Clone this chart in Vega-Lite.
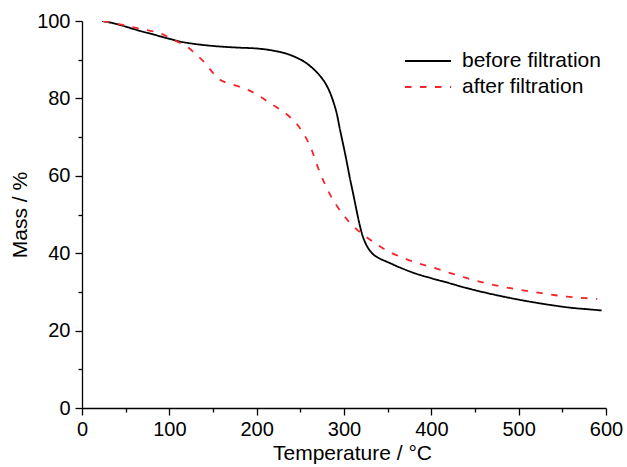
{
  "$schema": "https://vega.github.io/schema/vega-lite/v6.json",
  "width": 524,
  "height": 387,
  "autosize": {"type": "none"},
  "padding": {"left": 82, "top": 21, "right": 21, "bottom": 59},
  "background": "white",
  "config": {
    "view": {"stroke": null},
    "font": "Liberation Sans",
    "axis": {
      "domainColor": "black",
      "domainWidth": 1.3,
      "tickColor": "black",
      "tickWidth": 1.3,
      "labelColor": "black",
      "labelFont": "Liberation Sans",
      "labelFontSize": 20,
      "titleFont": "Liberation Sans",
      "titleFontSize": 21,
      "titleFontWeight": "normal",
      "titleColor": "black",
      "grid": false,
      "labelOverlap": false,
      "labelFlush": false
    }
  },
  "data": {
    "values": [
      {"series": "before filtration", "T": 23, "m": 100},
      {"series": "before filtration", "T": 40, "m": 99.2},
      {"series": "before filtration", "T": 55, "m": 98.2},
      {"series": "before filtration", "T": 70, "m": 97.2},
      {"series": "before filtration", "T": 82, "m": 96.5},
      {"series": "before filtration", "T": 100, "m": 95.4},
      {"series": "before filtration", "T": 112, "m": 94.7},
      {"series": "before filtration", "T": 125, "m": 94.2},
      {"series": "before filtration", "T": 135, "m": 93.9},
      {"series": "before filtration", "T": 158, "m": 93.4},
      {"series": "before filtration", "T": 181, "m": 93.1},
      {"series": "before filtration", "T": 200, "m": 92.9},
      {"series": "before filtration", "T": 220, "m": 92.3},
      {"series": "before filtration", "T": 235, "m": 91.5},
      {"series": "before filtration", "T": 245, "m": 90.6},
      {"series": "before filtration", "T": 255, "m": 89.4},
      {"series": "before filtration", "T": 265, "m": 87.6},
      {"series": "before filtration", "T": 273, "m": 85.7},
      {"series": "before filtration", "T": 280, "m": 83.4},
      {"series": "before filtration", "T": 284, "m": 81.5},
      {"series": "before filtration", "T": 288, "m": 79.0},
      {"series": "before filtration", "T": 292, "m": 75.8},
      {"series": "before filtration", "T": 295, "m": 72.4},
      {"series": "before filtration", "T": 298, "m": 69.2},
      {"series": "before filtration", "T": 301, "m": 66.0},
      {"series": "before filtration", "T": 304, "m": 62.6},
      {"series": "before filtration", "T": 307, "m": 59.1},
      {"series": "before filtration", "T": 310, "m": 55.9},
      {"series": "before filtration", "T": 313, "m": 52.6},
      {"series": "before filtration", "T": 316, "m": 49.3},
      {"series": "before filtration", "T": 318.5, "m": 46.8},
      {"series": "before filtration", "T": 321, "m": 44.7},
      {"series": "before filtration", "T": 324, "m": 42.9},
      {"series": "before filtration", "T": 328, "m": 41.2},
      {"series": "before filtration", "T": 334, "m": 39.6},
      {"series": "before filtration", "T": 341, "m": 38.6},
      {"series": "before filtration", "T": 349, "m": 37.8},
      {"series": "before filtration", "T": 364, "m": 36.3},
      {"series": "before filtration", "T": 380, "m": 34.9},
      {"series": "before filtration", "T": 402, "m": 33.4},
      {"series": "before filtration", "T": 420, "m": 32.3},
      {"series": "before filtration", "T": 440, "m": 31.0},
      {"series": "before filtration", "T": 460, "m": 29.9},
      {"series": "before filtration", "T": 480, "m": 28.9},
      {"series": "before filtration", "T": 500, "m": 28.0},
      {"series": "before filtration", "T": 520, "m": 27.2},
      {"series": "before filtration", "T": 540, "m": 26.5},
      {"series": "before filtration", "T": 560, "m": 25.9},
      {"series": "before filtration", "T": 580, "m": 25.5},
      {"series": "before filtration", "T": 595, "m": 25.2},
      {"series": "after filtration", "T": 24, "m": 100},
      {"series": "after filtration", "T": 40, "m": 99.3},
      {"series": "after filtration", "T": 62, "m": 98.2},
      {"series": "after filtration", "T": 93, "m": 96.5},
      {"series": "after filtration", "T": 108, "m": 94.8},
      {"series": "after filtration", "T": 120, "m": 93.4},
      {"series": "after filtration", "T": 131, "m": 91.3},
      {"series": "after filtration", "T": 141, "m": 89.1},
      {"series": "after filtration", "T": 150, "m": 86.6},
      {"series": "after filtration", "T": 158, "m": 84.8},
      {"series": "after filtration", "T": 170, "m": 83.8},
      {"series": "after filtration", "T": 190, "m": 82.2},
      {"series": "after filtration", "T": 204, "m": 80.5},
      {"series": "after filtration", "T": 215, "m": 78.8},
      {"series": "after filtration", "T": 227, "m": 77.1},
      {"series": "after filtration", "T": 238, "m": 75.2},
      {"series": "after filtration", "T": 248, "m": 72.8},
      {"series": "after filtration", "T": 256, "m": 70.0},
      {"series": "after filtration", "T": 263, "m": 66.7},
      {"series": "after filtration", "T": 268, "m": 63.5},
      {"series": "after filtration", "T": 273, "m": 60.5},
      {"series": "after filtration", "T": 280, "m": 57.0},
      {"series": "after filtration", "T": 286, "m": 54.3},
      {"series": "after filtration", "T": 295, "m": 51.2},
      {"series": "after filtration", "T": 305, "m": 48.3},
      {"series": "after filtration", "T": 311, "m": 46.9},
      {"series": "after filtration", "T": 322, "m": 44.8},
      {"series": "after filtration", "T": 335, "m": 42.7},
      {"series": "after filtration", "T": 345, "m": 41.2},
      {"series": "after filtration", "T": 360, "m": 39.5},
      {"series": "after filtration", "T": 372, "m": 38.4},
      {"series": "after filtration", "T": 385, "m": 37.4},
      {"series": "after filtration", "T": 402, "m": 36.3},
      {"series": "after filtration", "T": 420, "m": 35.0},
      {"series": "after filtration", "T": 440, "m": 33.6},
      {"series": "after filtration", "T": 460, "m": 32.4},
      {"series": "after filtration", "T": 480, "m": 31.4},
      {"series": "after filtration", "T": 500, "m": 30.6},
      {"series": "after filtration", "T": 520, "m": 29.9},
      {"series": "after filtration", "T": 540, "m": 29.2},
      {"series": "after filtration", "T": 555, "m": 28.8},
      {"series": "after filtration", "T": 570, "m": 28.5},
      {"series": "after filtration", "T": 590, "m": 28.2}
    ]
  },
  "mark": {"type": "line", "strokeWidth": 1.8, "interpolate": "monotone", "clip": true},
  "encoding": {
    "x": {
      "field": "T",
      "type": "quantitative",
      "scale": {"domain": [0, 600], "nice": false, "zero": false},
      "axis": {
        "title": "Temperature / °C",
        "values": [0, 50, 100, 150, 200, 250, 300, 350, 400, 450, 500, 550, 600],
        "labelExpr": "datum.value % 100 === 0 ? datum.label : ''",
        "tickSize": {"condition": {"test": "datum.value % 100 === 0", "value": 7}, "value": 4},
        "labelPadding": 4,
        "titlePadding": 3,
        "titleX": 270
      }
    },
    "y": {
      "field": "m",
      "type": "quantitative",
      "scale": {"domain": [0, 100], "nice": false},
      "axis": {
        "title": "Mass / %",
        "values": [0, 10, 20, 30, 40, 50, 60, 70, 80, 90, 100],
        "labelExpr": "datum.value % 20 === 0 ? datum.label : ''",
        "tickSize": {"condition": {"test": "datum.value % 20 === 0", "value": 7}, "value": 4},
        "labelPadding": 5,
        "titlePadding": 6
      }
    },
    "color": {
      "field": "series",
      "type": "nominal",
      "scale": {"domain": ["before filtration", "after filtration"], "range": ["black", "#f5262b"]},
      "legend": {
        "title": null,
        "orient": "none",
        "legendX": 322,
        "legendY": 28,
        "symbolType": "stroke",
        "symbolSize": 2116,
        "symbolStrokeWidth": 1.8,
        "clipHeight": 24,
        "rowPadding": 2,
        "labelFont": "Liberation Sans",
        "labelFontSize": 21,
        "labelColor": "black",
        "labelOffset": 10
      }
    },
    "strokeDash": {
      "field": "series",
      "type": "nominal",
      "scale": {"domain": ["before filtration", "after filtration"], "range": [[1, 0], [6.5, 8.5]]},
      "legend": null
    }
  }
}
